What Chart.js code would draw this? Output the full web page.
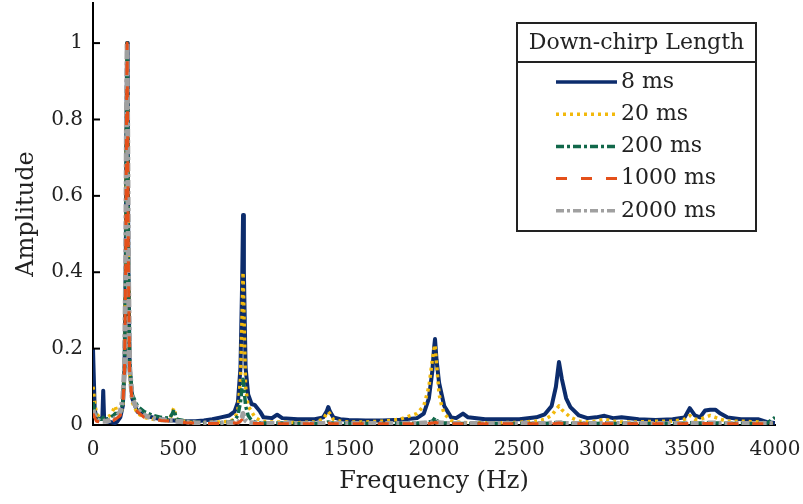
<!DOCTYPE html>
<html>
<head>
<meta charset="utf-8">
<script src="https://cdn.jsdelivr.net/npm/chart.js@4.4.1/dist/chart.umd.min.js"></script>
<style>
  html, body { margin: 0; padding: 0; background: #fff; }
  #wrap { width: 803px; height: 504px; }
</style>
</head>
<body>
<div id="wrap"><canvas id="chart" width="803" height="504"></canvas></div>
<script>
// frequency grid (Hz), denser around the peaks
const freq = [0, 10, 20, 40, 55, 60, 65, 80, 100, 120,
  130, 140, 160, 175, 185, 192, 196, 200, 204, 208,
  215, 230, 260, 300, 350, 400, 450, 465, 475, 490,
  550, 600, 650, 700, 750, 800, 830, 850, 865, 875,
  880, 885, 895, 910, 930, 950, 980, 1000, 1050, 1080,
  1110, 1200, 1300, 1350, 1370, 1380, 1390, 1410, 1450, 1500,
  1600, 1700, 1800, 1900, 1940, 1970, 1990, 2000, 2006, 2015,
  2030, 2045, 2060, 2080, 2100, 2130, 2170, 2200, 2300, 2400,
  2500, 2600, 2650, 2690, 2715, 2733, 2750, 2775, 2800, 2850,
  2900, 2950, 3000, 3050, 3100, 3200, 3300, 3400, 3470, 3500,
  3530, 3560, 3590, 3620, 3650, 3680, 3720, 3800, 3900, 3950,
  4000];

const amp8 = [0.20, 0.04, 0.02, 0.015, 0.02, 0.09, 0.02, 0.01, 0.008, 0.006,
  0.005, 0.008, 0.02, 0.05, 0.15, 0.42, 0.76, 1.0, 0.7, 0.4,
  0.15, 0.07, 0.035, 0.025, 0.02, 0.015, 0.012, 0.012, 0.012, 0.01,
  0.01, 0.01, 0.012, 0.015, 0.02, 0.025, 0.035, 0.06, 0.15, 0.38,
  0.55, 0.40, 0.15, 0.08, 0.055, 0.052, 0.035, 0.02, 0.018, 0.027,
  0.018, 0.015, 0.015, 0.02, 0.035, 0.047, 0.035, 0.02, 0.015, 0.013,
  0.012, 0.012, 0.014, 0.018, 0.03, 0.07, 0.14, 0.2, 0.225, 0.17,
  0.11, 0.08, 0.05, 0.035, 0.02, 0.018, 0.03, 0.02, 0.015, 0.015,
  0.015, 0.02, 0.028, 0.05, 0.1, 0.165, 0.12, 0.07, 0.047, 0.025,
  0.018, 0.02, 0.024, 0.018, 0.02, 0.015, 0.013, 0.015, 0.02, 0.044,
  0.025, 0.02, 0.038, 0.04, 0.04, 0.03, 0.02, 0.015, 0.015, 0.008,
  0.005];

const amp20 = [0.10, 0.06, 0.03, 0.02, 0.015, 0.015, 0.015, 0.02, 0.025, 0.04,
  0.05, 0.035, 0.025, 0.05, 0.15, 0.42, 0.76, 1.0, 0.7, 0.4,
  0.14, 0.06, 0.03, 0.02, 0.015, 0.012, 0.012, 0.035, 0.045, 0.015,
  0.008, 0.006, 0.006, 0.007, 0.008, 0.01, 0.015, 0.04, 0.12, 0.3,
  0.40, 0.3, 0.1, 0.05, 0.035, 0.02, 0.012, 0.01, 0.008, 0.008,
  0.008, 0.006, 0.008, 0.015, 0.03, 0.035, 0.03, 0.015, 0.01, 0.008,
  0.008, 0.01, 0.015, 0.03, 0.05, 0.1, 0.17, 0.2, 0.21, 0.16,
  0.08, 0.05, 0.03, 0.02, 0.012, 0.008, 0.007, 0.006, 0.006, 0.006,
  0.007, 0.01, 0.015, 0.025, 0.04, 0.05, 0.04, 0.03, 0.02, 0.01,
  0.008, 0.01, 0.015, 0.01, 0.008, 0.008, 0.01, 0.01, 0.015, 0.025,
  0.015, 0.015, 0.02, 0.025, 0.02, 0.015, 0.01, 0.01, 0.008, 0.005,
  0.003];

const amp200 = [0.06, 0.035, 0.02, 0.015, 0.015, 0.02, 0.015, 0.015, 0.02, 0.025,
  0.03, 0.03, 0.03, 0.06, 0.15, 0.42, 0.76, 1.0, 0.7, 0.4,
  0.16, 0.08, 0.05, 0.035, 0.025, 0.02, 0.018, 0.03, 0.04, 0.015,
  0.01, 0.008, 0.006, 0.006, 0.006, 0.008, 0.012, 0.025, 0.06, 0.1,
  0.12, 0.1, 0.05, 0.025, 0.012, 0.008, 0.006, 0.005, 0.005, 0.005,
  0.005, 0.004, 0.004, 0.005, 0.006, 0.008, 0.006, 0.005, 0.004, 0.004,
  0.004, 0.004, 0.004, 0.005, 0.006, 0.008, 0.01, 0.015, 0.02, 0.012,
  0.008, 0.006, 0.005, 0.005, 0.004, 0.004, 0.004, 0.004, 0.004, 0.004,
  0.004, 0.004, 0.004, 0.005, 0.006, 0.008, 0.006, 0.005, 0.004, 0.004,
  0.004, 0.004, 0.005, 0.004, 0.004, 0.004, 0.004, 0.004, 0.005, 0.006,
  0.005, 0.005, 0.006, 0.006, 0.005, 0.005, 0.004, 0.004, 0.004, 0.004,
  0.02];

const amp1000 = [0.03, 0.02, 0.01, 0.008, 0.008, 0.008, 0.008, 0.008, 0.01, 0.012,
  0.015, 0.018, 0.025, 0.05, 0.15, 0.42, 0.76, 1.0, 0.7, 0.4,
  0.14, 0.06, 0.035, 0.02, 0.015, 0.012, 0.01, 0.01, 0.01, 0.008,
  0.006, 0.005, 0.004, 0.004, 0.004, 0.005, 0.005, 0.006, 0.01, 0.015,
  0.02, 0.015, 0.01, 0.006, 0.005, 0.004, 0.004, 0.003, 0.003, 0.003,
  0.003, 0.003, 0.003, 0.003, 0.004, 0.005, 0.004, 0.003, 0.003, 0.003,
  0.003, 0.003, 0.003, 0.003, 0.003, 0.004, 0.005, 0.006, 0.007, 0.006,
  0.005, 0.004, 0.004, 0.003, 0.003, 0.003, 0.003, 0.003, 0.003, 0.003,
  0.003, 0.003, 0.003, 0.003, 0.004, 0.005, 0.004, 0.003, 0.003, 0.003,
  0.003, 0.003, 0.003, 0.003, 0.003, 0.003, 0.003, 0.003, 0.003, 0.004,
  0.003, 0.003, 0.004, 0.004, 0.004, 0.003, 0.003, 0.003, 0.003, 0.003,
  0.003];

const amp2000 = [0.04, 0.025, 0.015, 0.01, 0.01, 0.01, 0.01, 0.01, 0.012, 0.015,
  0.018, 0.022, 0.035, 0.07, 0.15, 0.42, 0.78, 1.0, 0.72, 0.4,
  0.15, 0.07, 0.04, 0.025, 0.018, 0.014, 0.012, 0.012, 0.012, 0.01,
  0.008, 0.006, 0.005, 0.005, 0.005, 0.006, 0.006, 0.007, 0.012, 0.02,
  0.03, 0.02, 0.012, 0.007, 0.006, 0.005, 0.005, 0.004, 0.004, 0.004,
  0.004, 0.004, 0.004, 0.004, 0.005, 0.006, 0.005, 0.004, 0.004, 0.004,
  0.004, 0.004, 0.004, 0.004, 0.005, 0.005, 0.006, 0.008, 0.009, 0.007,
  0.006, 0.005, 0.005, 0.004, 0.004, 0.004, 0.004, 0.004, 0.004, 0.004,
  0.004, 0.004, 0.004, 0.005, 0.005, 0.006, 0.005, 0.004, 0.004, 0.004,
  0.004, 0.004, 0.004, 0.004, 0.004, 0.004, 0.004, 0.004, 0.004, 0.005,
  0.004, 0.004, 0.005, 0.005, 0.005, 0.004, 0.004, 0.004, 0.004, 0.004,
  0.004];

const seriesLabels = ['8 ms', '20 ms', '200 ms', '1000 ms', '2000 ms'];
const xTicks = [0, 500, 1000, 1500, 2000, 2500, 3000, 3500, 4000];
const yTicks = [0, 0.2, 0.4, 0.6, 0.8, 1];

Chart.defaults.font.family = "'DejaVu Serif', serif";
Chart.defaults.color = '#222';

function pts(vals) {
  return freq.map((f, i) => ({ x: f, y: vals[i] }));
}

// boxed legend with a title row, drawn from the datasets
const boxLegend = {
  id: 'boxLegend',
  afterDraw(chart) {
    const ctx = chart.ctx;
    const L = 517, R = 756, T = 23, B = 231, sep = 62;
    ctx.save();
    ctx.fillStyle = '#fff';
    ctx.fillRect(L, T, R - L, B - T);
    ctx.strokeStyle = '#222';
    ctx.lineWidth = 2;
    ctx.setLineDash([]);
    ctx.strokeRect(L, T, R - L, B - T);
    ctx.beginPath();
    ctx.moveTo(L, sep);
    ctx.lineTo(R, sep);
    ctx.stroke();
    ctx.fillStyle = '#222';
    ctx.font = "22px 'DejaVu Serif'";
    ctx.textBaseline = 'middle';
    ctx.textAlign = 'center';
    ctx.fillText('Down-chirp Length', (L + R) / 2, 43);
    ctx.textAlign = 'left';
    chart.data.datasets.forEach((ds, i) => {
      const y = 82 + i * 32.2;
      ctx.strokeStyle = ds.borderColor;
      ctx.lineWidth = Math.min(ds.borderWidth, 3.5);
      ctx.setLineDash(ds.borderDash || []);
      ctx.beginPath();
      ctx.moveTo(556, y);
      ctx.lineTo(617, y);
      ctx.stroke();
      ctx.fillText(ds.label, 621, y);
    });
    ctx.restore();
  }
};

// short inward tick marks on the y axis
const innerTicks = {
  id: 'innerTicks',
  afterDatasetsDraw(chart) {
    const ctx = chart.ctx;
    const ys = chart.scales.y;
    ctx.save();
    ctx.strokeStyle = '#000';
    ctx.lineWidth = 2;
    yTicks.forEach(v => {
      const py = ys.getPixelForValue(v);
      ctx.beginPath();
      ctx.moveTo(ys.right, py);
      ctx.lineTo(ys.right + 7, py);
      ctx.stroke();
    });
    ctx.restore();
  }
};

new Chart(document.getElementById('chart'), {
  type: 'line',
  data: {
    datasets: [
      { label: seriesLabels[0], data: pts(amp8), borderColor: '#0c2c6c', borderWidth: 4, borderDash: [], order: 5 },
      { label: seriesLabels[1], data: pts(amp20), borderColor: '#f2b90c', borderWidth: 3.5, borderDash: [3, 4], order: 4 },
      { label: seriesLabels[2], data: pts(amp200), borderColor: '#11684a', borderWidth: 3.5, borderDash: [8, 3, 3, 3], order: 3 },
      { label: seriesLabels[3], data: pts(amp1000), borderColor: '#e4501a', borderWidth: 3, borderDash: [11, 14], order: 1 },
      { label: seriesLabels[4], data: pts(amp2000), borderColor: '#a0a0a0', borderWidth: 5, borderDash: [8, 3, 3, 3], order: 2 }
    ]
  },
  options: {
    responsive: false,
    animation: false,
    layout: { padding: { top: 3, right: 28, left: 0, bottom: 0 } },
    elements: { point: { radius: 0 }, line: { tension: 0, borderJoinStyle: 'round' } },
    plugins: { legend: { display: false }, tooltip: { enabled: false } },
    scales: {
      x: {
        type: 'linear',
        min: 0,
        max: 4000,
        afterFit(s) { s.height = 79; s.paddingLeft = 0; s.paddingRight = 0; },
        afterBuildTicks(s) { s.ticks = xTicks.map(v => ({ value: v })); },
        grid: { display: false, drawTicks: false },
        border: { display: true, color: '#000', width: 2 },
        ticks: { font: { size: 20 }, color: '#222', padding: 13, maxRotation: 0, callback: v => String(v) },
        title: { display: true, text: 'Frequency (Hz)', font: { size: 24 }, color: '#222', padding: { top: 0, bottom: 8 } }
      },
      y: {
        min: 0,
        max: 1.105,
        afterFit(s) { s.width = 93; s.paddingTop = 0; s.paddingBottom = 0; },
        afterBuildTicks(s) { s.ticks = yTicks.map(v => ({ value: v })); },
        grid: { display: false, drawTicks: false },
        border: { display: true, color: '#000', width: 2 },
        ticks: { font: { size: 20 }, color: '#222', padding: 10, callback: v => String(v) },
        title: { display: true, text: 'Amplitude', font: { size: 24 }, color: '#222', padding: { top: 12, bottom: 0 } }
      }
    }
  },
  plugins: [innerTicks, boxLegend]
});
</script>
</body>
</html>
